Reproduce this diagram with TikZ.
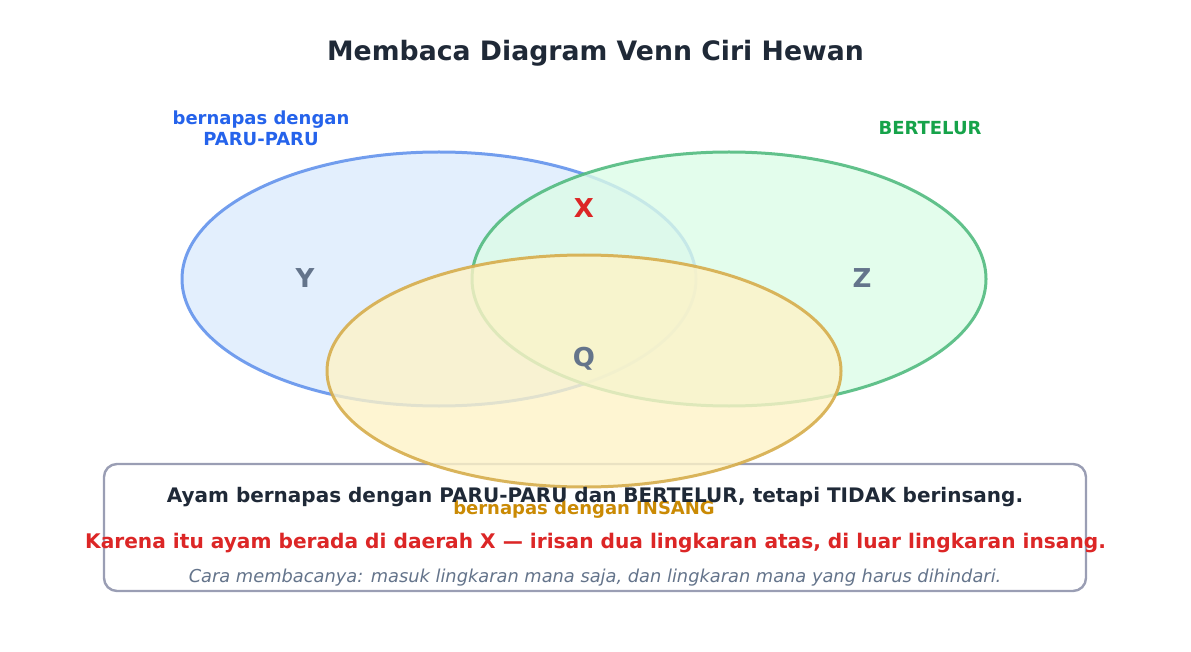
\documentclass[tikz,border=0pt]{standalone}
\usepackage{fontspec}
\setmainfont{DejaVu Sans}
\usetikzlibrary{shapes.geometric,positioning}
\definecolor{judul}{HTML}{1F2937}
\definecolor{biru}{HTML}{2563EB}
\definecolor{birugaris}{HTML}{6494EC}
\definecolor{biruisi}{HTML}{DCEBFD}
\definecolor{hijau}{HTML}{16A34A}
\definecolor{hijaugaris}{HTML}{52BB80}
\definecolor{hijauisi}{HTML}{DCFCE7}
\definecolor{kuning}{HTML}{CA8A04}
\definecolor{kuninggaris}{HTML}{D6AD4C}
\definecolor{kuningisi}{HTML}{FEF3C7}
\definecolor{abu}{HTML}{64748B}
\definecolor{merah}{HTML}{DC2626}
\definecolor{bingkai}{HTML}{9A9EB4}

\begin{document}
\begin{tikzpicture}[
			x = 1pt, y = -1pt,
			lingkaran/.style = {ellipse, inner sep=0pt, line width=3pt,
				minimum width=514pt, minimum height=254pt,
				fill opacity=0.8, draw opacity=0.9},
			daerah/.style = {font=\bfseries\fontsize{26}{30}\selectfont, text=abu},
			nama/.style = {font=\bfseries\fontsize{18}{21}\selectfont, align=center}
			]

			\useasboundingbox (0,0) rectangle (1191,652);

			% kotak keterangan di bawah
			\draw[bingkai, line width=2.4pt, rounded corners=13pt, fill=white]
				(104,464) rectangle (1086,591);

			% tiga lingkaran
			\node[lingkaran, draw=birugaris, fill=biruisi] (paru) at (439,279) {};
			\node[lingkaran, draw=hijaugaris, fill=hijauisi] (telur) at (729,279) {};
			\node[lingkaran, draw=kuninggaris, fill=kuningisi,
				minimum height=232pt] (insang) at (584,371) {};

			\node[font=\bfseries\fontsize{26.7}{30}\selectfont, text=judul] (judul) at (595.5,53) {Membaca Diagram Venn Ciri Hewan};

			\node[nama, text=biru] (lblparu) at (261,128) {bernapas dengan\\PARU-PARU};
			\node[nama, text=hijau] (lbltelur) at (930,128) {BERTELUR};
			\node[nama, text=kuning] (lblinsang) at (584,510) {bernapas dengan INSANG};

			\node[daerah] (Y) at (305,278) {Y};
			\node[daerah] (Z) at (862,278) {Z};
			\node[daerah] (Q) at (584,359) {Q};
			\node[daerah, text=merah] (X) at (584,208) {X};

			\node[font=\bfseries\fontsize{20}{24}\selectfont, text=judul] (baris1) at (595,497)
				{Ayam bernapas dengan PARU-PARU dan BERTELUR, tetapi TIDAK berinsang.};
			\node[font=\bfseries\fontsize{20.15}{24}\selectfont, text=merah] (baris2) at (595.5,543)
				{Karena itu ayam berada di daerah X — irisan dua lingkaran atas, di luar lingkaran insang.};
			\node[font=\itshape\fontsize{17.8}{21}\selectfont, text=abu] (baris3) at (595,578)
				{Cara membacanya: masuk lingkaran mana saja, dan lingkaran mana yang harus dihindari.};

		\end{tikzpicture}
\end{document}
